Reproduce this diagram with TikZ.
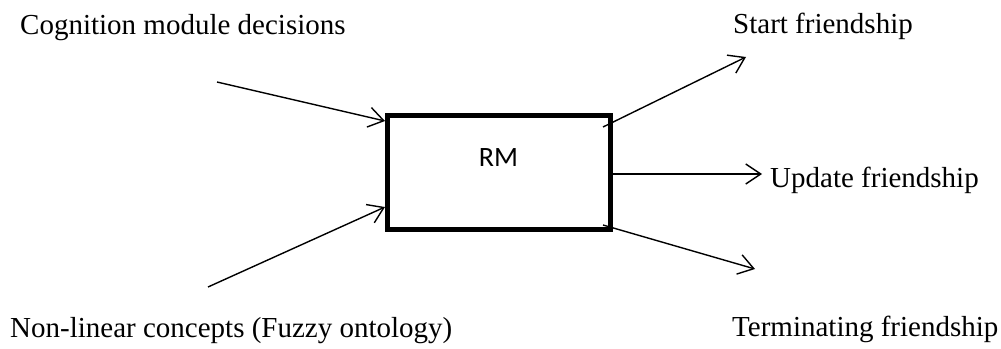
\documentclass[tikz,border=0pt]{standalone}
\usepackage{fontspec}
\setmainfont{Liberation Serif}
\newfontfamily\boxfont{Carlito}
\usetikzlibrary{arrows.meta}
\begin{document}
\begin{tikzpicture}[x=1pt,y=-1pt,
  label text/.style={anchor=base west,inner sep=0pt,font=\fontsize{29}{34}\selectfont},
  module/.style={draw,line width=5pt,minimum width=222.5pt,minimum height=114pt,inner sep=0pt},
  flow/.style={line width=1.4pt,-{Straight Barb[length=15pt,width=20pt,line width=1.4pt]}}]
  \useasboundingbox (0,0) rectangle (1001,348);

  % central module
  \node[module] (rm) at (498.75,172) {};
  \node[inner sep=0pt,font=\boxfont\fontsize{28}{32}\selectfont] (rmlabel) at (498.5,158) {RM};

  % texts
  \node[label text] (cog) at (20,34) {Cognition module decisions};
  \node[label text] (fuzzy) at (10,337) {Non-linear concepts (Fuzzy ontology)};
  \node[label text] (start) at (733,33) {Start friendship};
  \node[label text] (update) at (770,187) {Update friendship};
  \node[label text] (term) at (732,336) {Terminating friendship};

  % connector end points
  \coordinate (cogtail) at (217,82);
  \coordinate (cogtip) at (385,121);
  \coordinate (fuzzytail) at (208,287);
  \coordinate (fuzzytip) at (385,207);
  \coordinate (starttail) at (603,127);
  \coordinate (starttip) at (746,57);
  \coordinate (updatetail) at (610,174);
  \coordinate (updatetip) at (762,174);
  \coordinate (termtail) at (603,225);
  \coordinate (termtip) at (755,269);

  % connectors
  \draw[flow] (cogtail) -- (cogtip);
  \draw[flow] (fuzzytail) -- (fuzzytip);
  \draw[flow] (starttail) -- (starttip);
  \draw[flow] (updatetail) -- (updatetip);
  \draw[flow] (termtail) -- (termtip);
\end{tikzpicture}
\end{document}
